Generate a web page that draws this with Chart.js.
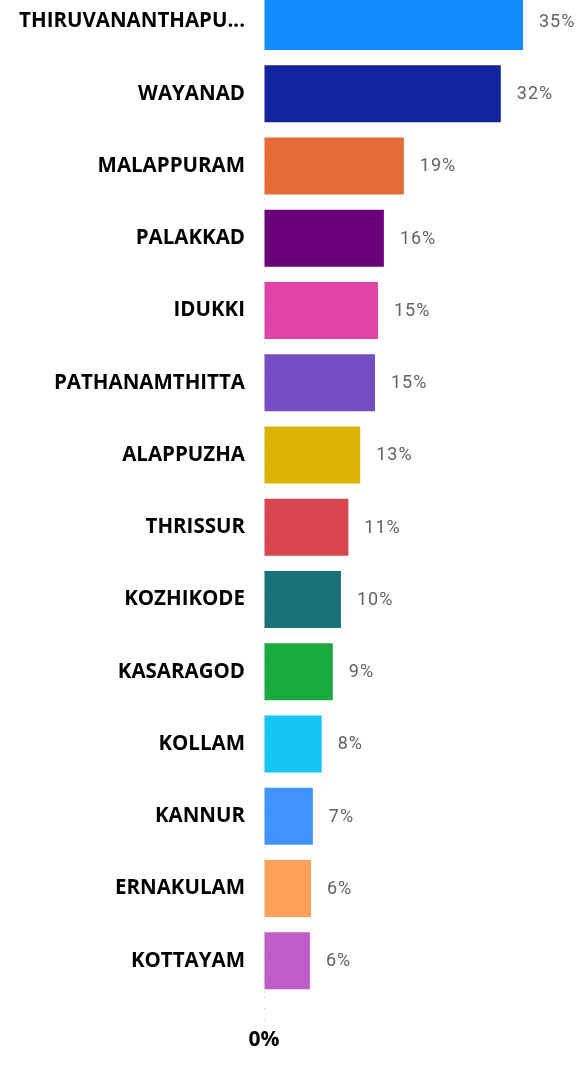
<!DOCTYPE html>
<html>
<head>
<meta charset="utf-8">
<script src="https://cdn.jsdelivr.net/npm/chart.js@4/dist/chart.umd.min.js"></script>
<style>
  html, body { margin: 0; padding: 0; background: #fff; }
  #wrap { width: 578px; height: 1082px; overflow: hidden; position: relative; }
  #chart { position: absolute; left: 0; top: -46px; }
</style>
</head>
<body>
<div id="wrap">
  <canvas id="chart" width="578" height="1126"></canvas>
</div>
<script>
const districts = [
  "THIRUVANANTHAPURAM", "WAYANAD", "MALAPPURAM", "PALAKKAD", "IDUKKI",
  "PATHANAMTHITTA", "ALAPPUZHA", "THRISSUR", "KOZHIKODE", "KASARAGOD",
  "KOLLAM", "KANNUR", "ERNAKULAM", "KOTTAYAM"
];
const shares = [35.0, 32.0, 18.9, 16.2, 15.4, 15.0, 13.0, 11.4, 10.4, 9.3, 7.8, 6.6, 6.35, 6.2];
const barColors = [
  "#118DFF", "#12239E", "#E66C37", "#6B007B", "#E044A7", "#744EC2", "#D9B300",
  "#D64550", "#197278", "#1AAB40", "#15C6F4", "#4092FF", "#FFA058", "#BE5DC9"
];
const xTicks = [0];

// values written just right of each bar
const barLabels = {
  id: "barLabels",
  afterDatasetsDraw(chart) {
    const ctx = chart.ctx;
    const meta = chart.getDatasetMeta(0);
    ctx.save();
    ctx.font = "18px Roboto";
    ctx.letterSpacing = "1px";
    ctx.fillStyle = "#626262";
    ctx.textAlign = "left";
    ctx.textBaseline = "middle";
    meta.data.forEach((bar, i) => {
      ctx.fillText(Math.round(shares[i]) + "%", bar.x + 16, bar.y + 1);
    });
    ctx.restore();
  }
};

new Chart(document.getElementById("chart"), {
  type: "bar",
  data: {
    labels: districts,
    datasets: [{
      data: shares,
      backgroundColor: barColors,
      borderWidth: 0,
      categoryPercentage: 1,
      barPercentage: 0.79
    }]
  },
  options: {
    indexAxis: "y",
    responsive: false,
    animation: false,
    devicePixelRatio: 1,
    layout: { padding: { left: 0, right: 18, top: 0, bottom: 20 } },
    plugins: {
      legend: { display: false },
      tooltip: { enabled: false }
    },
    scales: {
      x: {
        min: 0,
        max: 40,
        afterBuildTicks: (scale) => {
          scale.ticks = xTicks.map(v => ({ value: v }));
        },
        border: { display: false, dash: [1, 11], dashOffset: 2 },
        grid: {
          color: "#c0c0c0",
          lineWidth: 1,
          tickLength: 24,
          tickBorderDash: [1, 10],
          tickColor: "#c0c0c0"
        },
        ticks: {
          padding: 7,
          color: "#000",
          font: { family: "'Open Sans'", size: 21, weight: "bold" },
          callback: (v) => v + "%"
        }
      },
      y: {
        afterFit: (scale) => { scale.width = 264; },
        border: { display: false },
        grid: { display: false, drawTicks: false },
        ticks: {
          padding: 19,
          color: "#000",
          font: { family: "'Open Sans'", size: 20.5, weight: "bold" },
          callback: function (v) {
            const name = this.getLabelForValue(v);
            return name.length > 15 ? name.slice(0, 15) + "..." : name;
          }
        }
      }
    }
  },
  plugins: [barLabels]
});
</script>
</body>
</html>
